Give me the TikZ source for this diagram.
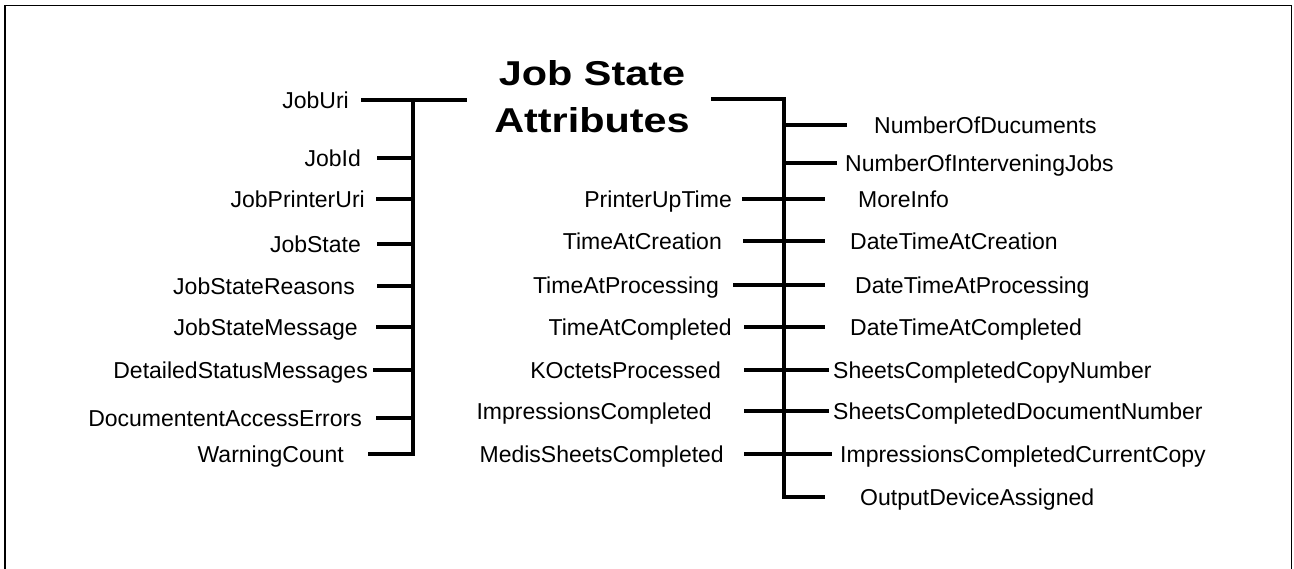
\documentclass[tikz,border=0pt]{standalone}
\usepackage{fontspec}
\setmainfont{Liberation Sans}
\usepackage{graphicx}
\begin{document}
\begin{tikzpicture}[x=1pt,y=-1pt,
  lab/.style={font=\fontsize{23}{27}\selectfont, inner sep=0pt, text height=16.5pt, text depth=0pt},
  wire/.style={line width=4pt},
  bus/.style={line width=4pt, line cap=rect},
  frame/.style={line width=1.5pt}]
\useasboundingbox (0,0) rectangle (1294,569);
\begin{scope}
  \clip (0,0) rectangle (1294,569);
  \draw[frame] (5,5.5) rectangle (1291.5,620);
\end{scope}

% title
\node[font=\bfseries\fontsize{34.5}{47}\selectfont, align=center, inner sep=0pt] (title) at (592,97)
  {\scalebox{1.2}[1]{Job State}\\\scalebox{1.2}[1]{Attributes}};

% bus coordinates
\coordinate (busLtop) at (413,100);
\coordinate (busLbot) at (413,454);
\coordinate (busRtop) at (784,99);
\coordinate (busRbot) at (784,497);
\coordinate (tL) at (467,100);
\coordinate (tR) at (711,99);

\draw[bus] (busLtop) -- (busLbot);
\draw[bus] (busRtop) -- (busRbot);
\draw[wire] (tR) -- (busRtop);

% left column
\node[lab, anchor=east] (joburi) at (349,100) {JobUri};
\draw[wire] ([xshift=12pt]joburi.east) -- (tL);
\foreach \n/\x/\y/\g/\txt in {
  jobid/361/158/16/JobId,
  jprint/365/199/11/JobPrinterUri,
  jstate/361/244/16/JobState,
  jreasons/355/286/22/JobStateReasons,
  jmsg/358/327/18/JobStateMessage,
  jdetail/368/370/5/DetailedStatusMessages,
  jdocerr/362/418/14/DocumententAccessErrors,
  jwarn/344/454/24/WarningCount}{
  \node[lab, anchor=east] (\n) at (\x,\y) {\txt};
  \draw[wire] ([xshift=\g pt]\n.east) -- (\n.east -| busLtop);
}

% middle column
\foreach \n/\x/\y/\g/\txt in {
  pup/732/199/10/PrinterUpTime,
  tcre/722/241/21/TimeAtCreation,
  tproc/719/285/14/TimeAtProcessing,
  tcomp/732/327/12/TimeAtCompleted,
  koct/721/370/23/KOctetsProcessed,
  impc/712/411/32/ImpressionsCompleted,
  medis/724/454/20/MedisSheetsCompleted}{
  \node[lab, anchor=east] (\n) at (\x,\y) {\txt};
  \draw[wire] ([xshift=\g pt]\n.east) -- (\n.east -| busRtop);
}

% right column
\foreach \n/\x/\y/\g/\txt in {
  ndocs/874/125/27/NumberOfDucuments,
  ninter/845/163/8/NumberOfInterveningJobs,
  minfo/858/199/33/MoreInfo,
  dtcre/850/241/25/DateTimeAtCreation,
  dtproc/855/285/30/DateTimeAtProcessing,
  dtcomp/850/327/25/DateTimeAtCompleted,
  sccopy/833/370/4/SheetsCompletedCopyNumber,
  scdoc/833/411/4/SheetsCompletedDocumentNumber,
  iccc/840/454/8/ImpressionsCompletedCurrentCopy,
  oda/860/497/35/OutputDeviceAssigned}{
  \node[lab, anchor=west] (\n) at (\x,\y) {\txt};
  \draw[wire] (\n.west -| busRtop) -- ([xshift=-\g pt]\n.west);
}
\end{tikzpicture}
\end{document}
